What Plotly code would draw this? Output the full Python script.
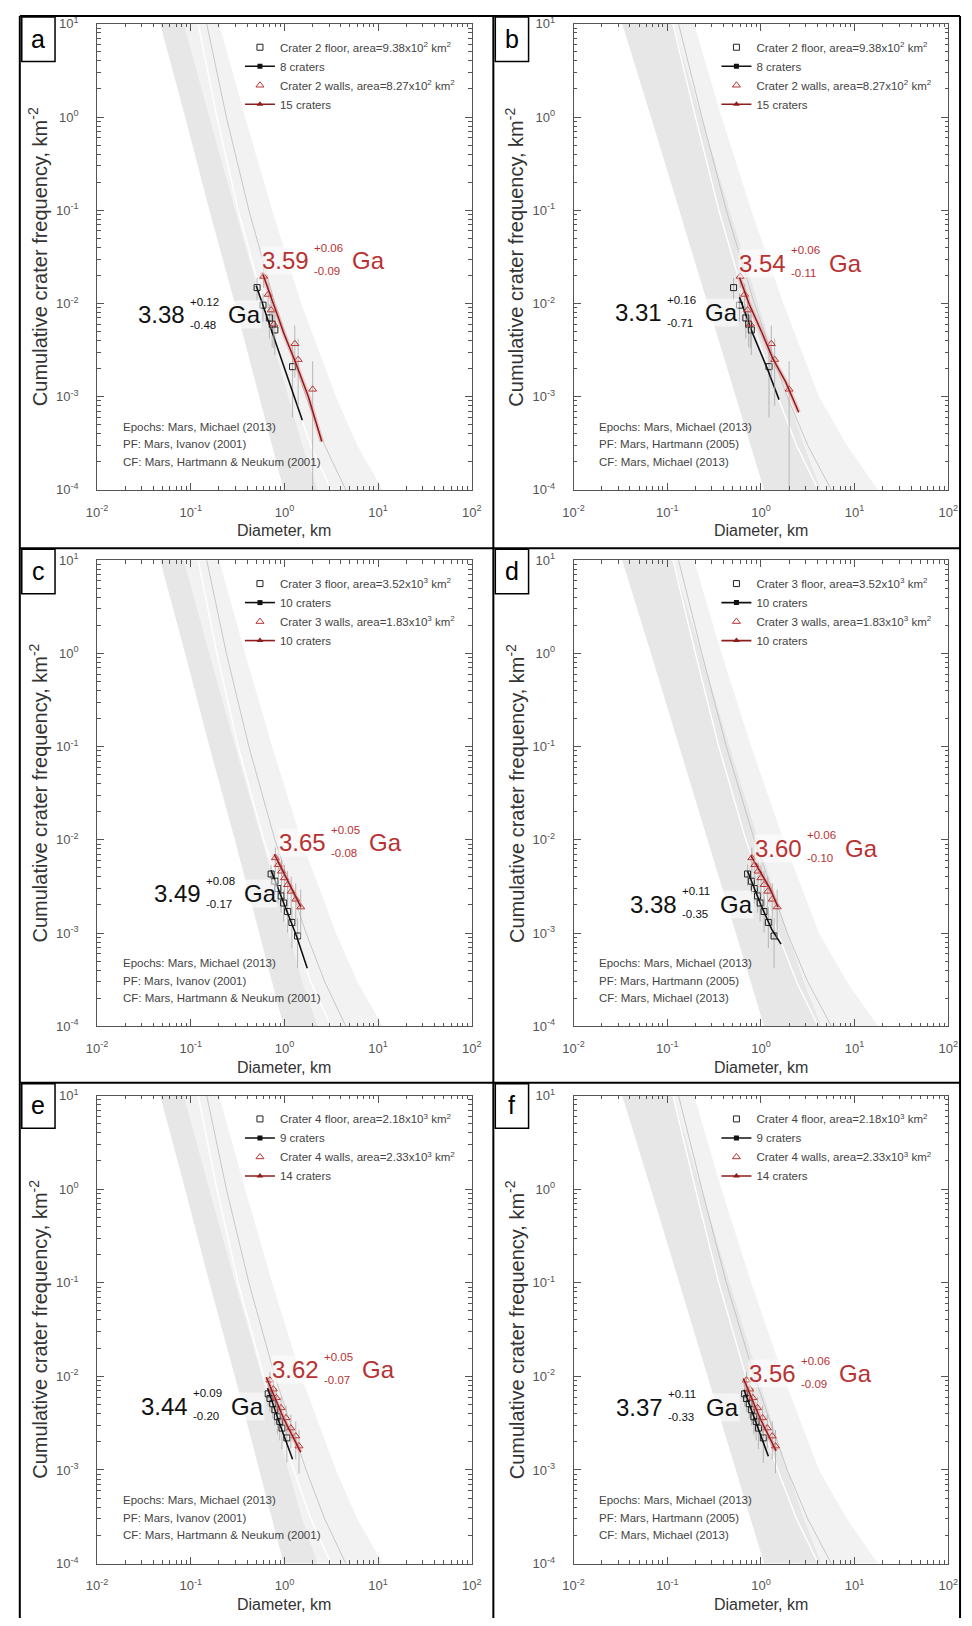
import plotly.graph_objects as go

W, H = 972, 1626
FONT = "Liberation Sans, Arial, Helvetica, sans-serif"
RED = "#b83232"
RED_LINE = "#8e1c1c"

# ---------------- epoch isochron bands: diameters (km) at these cumulative frequencies (km^-2)
band_N = [20, 10, 1, 0.1, 0.01, 0.001, 0.0003, 0.0001, 0.00006]
# Ivanov (2001) production function panels (a, c, e)
iv_left = [0.038, 0.047, 0.087, 0.158, 0.295, 0.54, 0.74, 1.0, 1.12]
iv_mid = [0.069, 0.083, 0.158, 0.30, 0.575, 1.10, 1.55, 2.24, 2.63]
iv_white = [0.10, 0.12, 0.19, 0.32, 0.60, 1.26, 1.91, 3.16, 3.98]
iv_gray = [0.123, 0.148, 0.24, 0.417, 0.79, 1.70, 2.69, 4.57, 5.75]
iv_right = [0.166, 0.20, 0.38, 0.74, 1.51, 3.55, 6.0, 11.2, 14.1]
# Hartmann (2005) production function panels (b, d, f)
hm_left = [0.027, 0.033, 0.067, 0.134, 0.27, 0.54, 0.77, 1.09, 1.26]
hm_mid = [0.093, 0.115, 0.231, 0.464, 0.933, 1.92, 2.88, 4.43, 5.47]
hm_white = [0.093, 0.115, 0.20, 0.355, 0.69, 1.51, 2.40, 4.17, 5.25]
hm_gray = [0.107, 0.132, 0.234, 0.427, 0.85, 1.91, 3.16, 5.75, 7.4]
hm_right = [0.158, 0.19, 0.38, 0.79, 1.74, 4.17, 8.3, 17.8, 23.4]

# ---------------- crater counts (diameter km, cumulative frequency km^-2, 1-sigma)
c2_floor_D = [0.51, 0.59, 0.69, 0.74, 0.79, 1.22]
c2_floor_N = [0.0148, 0.0096, 0.0070, 0.0060, 0.0052, 0.0021]
c2_floor_err = [0.0040, 0.0032, 0.0028, 0.0026, 0.0024, 0.0015]
c2_walls_D = [0.60, 0.67, 0.72, 0.77, 1.29, 1.40, 2.0]
c2_walls_N = [0.0195, 0.0125, 0.0085, 0.0060, 0.0037, 0.0025, 0.0012]
c2_walls_err = [0.0048, 0.0038, 0.0032, 0.0027, 0.0021, 0.0017, 0.0012]
c2_walls_err_lo = [0.0048, 0.0038, 0.0032, 0.0027, 0.0021, 0.0017, 0.00119]

c3_floor_D = [0.72, 0.79, 0.85, 0.92, 0.98, 1.08, 1.20, 1.38]
c3_floor_N = [0.0043, 0.0036, 0.0030, 0.0025, 0.0021, 0.0017, 0.0013, 0.00093]
c3_floor_err = [0.0011, 0.00101, 0.00093, 0.00084, 0.00077, 0.00069, 0.00061, 0.00051]
c3_walls_D = [0.80, 0.86, 0.93, 1.00, 1.08, 1.18, 1.32, 1.49]
c3_walls_N = [0.0064, 0.0054, 0.0046, 0.0039, 0.0033, 0.0028, 0.0023, 0.0019]
c3_walls_err = [0.00187, 0.00172, 0.00158, 0.00146, 0.00134, 0.00124, 0.00112, 0.00102]

c4_floor_D = [0.67, 0.70, 0.75, 0.79, 0.84, 0.89, 0.94, 1.06]
c4_floor_N = [0.0065, 0.0058, 0.0051, 0.0044, 0.0037, 0.0033, 0.0028, 0.0022]
c4_floor_err = [0.00173, 0.00163, 0.00153, 0.00142, 0.0013, 0.00123, 0.00113, 0.001]
c4_walls_D = [0.70, 0.76, 0.82, 0.92, 1.04, 1.17, 1.32, 1.43]
c4_walls_N = [0.0091, 0.0073, 0.0059, 0.0046, 0.0036, 0.0028, 0.0023, 0.0018]
c4_walls_err = [0.00198, 0.00177, 0.00159, 0.0014, 0.00124, 0.0011, 0.001, 0.00088]

# ---------------- isochron fits
fit_a_black_D = [0.50, 0.70, 1.0, 1.25, 1.55]
fit_a_black_N = [0.0155, 0.0058, 0.0021, 0.0011, 0.00056]
fit_a_red_D = [0.58, 0.80, 1.0, 1.3, 1.8, 2.5]
fit_a_red_N = [0.0215, 0.0085, 0.0046, 0.0024, 0.0010, 0.00033]
fit_b_black_D = [0.59, 0.82, 1.17, 1.56]
fit_b_black_N = [0.0117, 0.0047, 0.0020, 0.00093]
fit_b_red_D = [0.59, 0.75, 1.04, 1.33, 1.83, 2.53]
fit_b_red_N = [0.019, 0.0098, 0.0047, 0.0026, 0.00145, 0.00068]
fit_c_black_D = [0.72, 1.0, 1.35, 1.75]
fit_c_black_N = [0.0047, 0.0020, 0.00092, 0.00042]
fit_c_red_D = [0.78, 1.0, 1.25, 1.5]
fit_c_red_N = [0.0070, 0.0043, 0.0028, 0.0019]
fit_d_black_D = [0.72, 1.0, 1.3, 1.64]
fit_d_black_N = [0.0046, 0.0020, 0.0011, 0.00076]
fit_d_red_D = [0.78, 1.0, 1.25, 1.52]
fit_d_red_N = [0.0068, 0.0045, 0.0030, 0.0019]
fit_e_black_D = [0.66, 0.9, 1.22]
fit_e_black_N = [0.0075, 0.0030, 0.0013]
fit_e_red_D = [0.64, 1.0, 1.49]
fit_e_red_N = [0.0098, 0.0034, 0.00155]
fit_f_black_D = [0.66, 0.9, 1.2]
fit_f_black_N = [0.0072, 0.0031, 0.0014]
fit_f_red_D = [0.65, 1.0, 1.45]
fit_f_red_N = [0.0095, 0.0034, 0.0016]

# ---------------- model ages (Ga)
age_black = [("3.38", "+0.12", "-0.48"), ("3.31", "+0.16", "-0.71"), ("3.49", "+0.08", "-0.17"),
             ("3.38", "+0.11", "-0.35"), ("3.44", "+0.09", "-0.20"), ("3.37", "+0.11", "-0.33")]
age_red = [("3.59", "+0.06", "-0.09"), ("3.54", "+0.06", "-0.11"), ("3.65", "+0.05", "-0.08"),
           ("3.60", "+0.06", "-0.10"), ("3.62", "+0.05", "-0.07"), ("3.56", "+0.06", "-0.09")]
# label anchors (log10 D of number's right edge, log10 N of centre)
age_black_pos = [(-1.05, -2.12), (-1.05, -2.10), (-0.88, -2.58), (-0.89, -2.69), (-1.02, -2.32), (-1.03, -2.33)]
age_red_pos = [(0.27, -1.54), (0.28, -1.57), (0.45, -2.03), (0.45, -2.09), (0.38, -1.93), (0.38, -1.97)]

panel_letters = ["a", "b", "c", "d", "e", "f"]
x_tick_vals = [0.01, 0.1, 1, 10, 100]
x_tick_text = ["10<sup>-2</sup>", "10<sup>-1</sup>", "10<sup>0</sup>", "10<sup>1</sup>", "10<sup>2</sup>"]
y_tick_vals = [0.0001, 0.001, 0.01, 0.1, 1, 10]
y_tick_text = ["10<sup>-4</sup>", "10<sup>-3</sup>", "10<sup>-2</sup>", "10<sup>-1</sup>", "10<sup>0</sup>", "10<sup>1</sup>"]
x_minor = [k * 10.0 ** e for e in range(-2, 2) for k in range(2, 10)]
y_minor = [k * 10.0 ** e for e in range(-4, 1) for k in range(2, 10)]

bands = {
    "iv": (iv_left, iv_mid, iv_white, iv_gray, iv_right),
    "hm": (hm_left, hm_mid, hm_white, hm_gray, hm_right),
}
pf_text = {
    "iv": ["Epochs: Mars, Michael (2013)", "PF: Mars, Ivanov (2001)", "CF: Mars, Hartmann & Neukum (2001)"],
    "hm": ["Epochs: Mars, Michael (2013)", "PF: Mars, Hartmann (2005)", "CF: Mars, Michael (2013)"],
}
craters = {
    2: dict(fD=c2_floor_D, fN=c2_floor_N, fE=c2_floor_err, fEl=c2_floor_err,
            wD=c2_walls_D, wN=c2_walls_N, wE=c2_walls_err, wEl=c2_walls_err_lo,
            fname="Crater 2 floor, area=9.38x10<sup>2</sup> km<sup>2</sup>",
            wname="Crater 2 walls, area=8.27x10<sup>2</sup> km<sup>2</sup>",
            nf="8 craters", nw="15 craters"),
    3: dict(fD=c3_floor_D, fN=c3_floor_N, fE=c3_floor_err, fEl=c3_floor_err,
            wD=c3_walls_D, wN=c3_walls_N, wE=c3_walls_err, wEl=c3_walls_err,
            fname="Crater 3 floor, area=3.52x10<sup>3</sup> km<sup>2</sup>",
            wname="Crater 3 walls, area=1.83x10<sup>3</sup> km<sup>2</sup>",
            nf="10 craters", nw="10 craters"),
    4: dict(fD=c4_floor_D, fN=c4_floor_N, fE=c4_floor_err, fEl=c4_floor_err,
            wD=c4_walls_D, wN=c4_walls_N, wE=c4_walls_err, wEl=c4_walls_err,
            fname="Crater 4 floor, area=2.18x10<sup>3</sup> km<sup>2</sup>",
            wname="Crater 4 walls, area=2.33x10<sup>3</sup> km<sup>2</sup>",
            nf="9 craters", nw="14 craters"),
}
fits = [
    (fit_a_black_D, fit_a_black_N, fit_a_red_D, fit_a_red_N),
    (fit_b_black_D, fit_b_black_N, fit_b_red_D, fit_b_red_N),
    (fit_c_black_D, fit_c_black_N, fit_c_red_D, fit_c_red_N),
    (fit_d_black_D, fit_d_black_N, fit_d_red_D, fit_d_red_N),
    (fit_e_black_D, fit_e_black_N, fit_e_red_D, fit_e_red_N),
    (fit_f_black_D, fit_f_black_N, fit_f_red_D, fit_f_red_N),
]

# ---------------- layout geometry (window pixels)
col_px = [(88, 471), (575, 958)]
row_px = [(15, 486), (557, 1028), (1098, 1571)]
row_border = [7, 545, 1085]
col_border = [9, 493, 970]


def px(v):
    return v / W


def py(v):
    return 1 - v / H


fig = go.Figure()
annotations = []
shapes = []
layout = dict(width=W, height=H, margin=dict(l=0, r=0, t=0, b=0),
              paper_bgcolor="white", plot_bgcolor="white", showlegend=True,
              font=dict(family=FONT))

for i in range(6):
    r, c = i // 2, i % 2
    n = "" if i == 0 else str(i + 1)
    xr, yr = "x" + n, "y" + n
    lg = "legend" + n
    pf = "iv" if c == 0 else "hm"
    crater = craters[2 + r]
    bl, bm, bw, bg, br = bands[pf]

    # epoch bands
    fig.add_trace(go.Scatter(x=bm + br[::-1], y=band_N + band_N[::-1], fill="toself", mode="lines",
                             line=dict(width=0), fillcolor="rgba(0,0,0,0.05)", hoverinfo="skip",
                             showlegend=False, xaxis=xr, yaxis=yr))
    fig.add_trace(go.Scatter(x=bl + bm[::-1], y=band_N + band_N[::-1], fill="toself", mode="lines",
                             line=dict(width=0), fillcolor="rgba(0,0,0,0.095)", hoverinfo="skip",
                             showlegend=False, xaxis=xr, yaxis=yr))
    fig.add_trace(go.Scatter(x=bw, y=band_N, mode="lines", line=dict(width=1.4, color="white"),
                             hoverinfo="skip", showlegend=False, xaxis=xr, yaxis=yr))
    fig.add_trace(go.Scatter(x=bg, y=band_N, mode="lines", line=dict(width=0.8, color="#bcbcbc"),
                             hoverinfo="skip", showlegend=False, xaxis=xr, yaxis=yr))

    fbD, fbN, frD, frN = fits[i]
    # floor data
    fig.add_trace(go.Scatter(x=crater["fD"], y=crater["fN"], mode="markers", name=crater["fname"],
                             marker=dict(symbol="square-open", size=6, color="#222", line=dict(width=1)),
                             error_y=dict(type="data", array=crater["fE"], arrayminus=crater["fEl"],
                                          symmetric=False, width=0, thickness=0.8, color="#a8a8a8"),
                             legend=lg, xaxis=xr, yaxis=yr))
    fig.add_trace(go.Scatter(x=fbD, y=fbN, mode="lines", line=dict(color="#111", width=1.6),
                             showlegend=False, xaxis=xr, yaxis=yr))
    fig.add_trace(go.Scatter(x=[None], y=[None], mode="lines+markers", name=crater["nf"],
                             line=dict(color="#111", width=1.6),
                             marker=dict(symbol="square", size=5, color="#111"),
                             legend=lg, xaxis=xr, yaxis=yr))
    # walls data
    fig.add_trace(go.Scatter(x=crater["wD"], y=crater["wN"], mode="markers", name=crater["wname"],
                             marker=dict(symbol="triangle-up-open", size=7, color=RED, line=dict(width=1)),
                             error_y=dict(type="data", array=crater["wE"], arrayminus=crater["wEl"],
                                          symmetric=False, width=0, thickness=0.8, color="#a8a8a8"),
                             legend=lg, xaxis=xr, yaxis=yr))
    fig.add_trace(go.Scatter(x=frD, y=frN, mode="lines", line=dict(color="rgba(230,140,140,0.45)", width=4.5),
                             showlegend=False, hoverinfo="skip", xaxis=xr, yaxis=yr))
    fig.add_trace(go.Scatter(x=frD, y=frN, mode="lines", line=dict(color=RED_LINE, width=1.5),
                             showlegend=False, xaxis=xr, yaxis=yr))
    fig.add_trace(go.Scatter(x=[None], y=[None], mode="lines+markers", name=crater["nw"],
                             line=dict(color=RED_LINE, width=1.6),
                             marker=dict(symbol="triangle-up", size=6, color=RED_LINE),
                             legend=lg, xaxis=xr, yaxis=yr))

    x0, x1 = col_px[c]
    y0, y1 = row_px[r]
    axis_common = dict(type="log", showline=True, linecolor="#555", linewidth=1, mirror="allticks",
                       ticks="inside", ticklen=7, tickcolor="#555", tickwidth=1,
                       tickfont=dict(size=13, color="#555", family=FONT),
                       showgrid=False, zeroline=False, fixedrange=True)
    layout["xaxis" + n] = dict(axis_common, range=[-2, 2], domain=[px(x0), px(x1)], anchor=yr,
                               tickvals=x_tick_vals, ticktext=x_tick_text, ticklabelstandoff=10,
                               minor=dict(ticks="inside", ticklen=3.5, tickcolor="#555",
                                          tickvals=x_minor, showgrid=False))
    layout["yaxis" + n] = dict(axis_common, range=[-4, 1], domain=[py(y1), py(y0)], anchor=xr,
                               tickvals=y_tick_vals, ticktext=y_tick_text, ticklabelstandoff=15,
                               minor=dict(ticks="inside", ticklen=3.5, tickcolor="#555",
                                          tickvals=y_minor, showgrid=False))
    layout[lg] = dict(x=px(x0 + 146), y=py(y0 + 9), xanchor="left", yanchor="top",
                      bgcolor="rgba(0,0,0,0)", borderwidth=0, itemwidth=30, tracegroupgap=0,
                      font=dict(size=11.5, color="#444", family=FONT))

    xd, yd = xr + " domain", yr + " domain"
    annotations.append(dict(x=-0.157, y=0.5, xref=xd, yref=yd, showarrow=False, textangle=-90,
                            xanchor="center", yanchor="middle",
                            text="Cumulative crater frequency, km<sup>-2</sup>",
                            font=dict(size=20, color="#333", family=FONT)))
    annotations.append(dict(x=0.5, y=-0.088, xref=xd, yref=yd, showarrow=False,
                            xanchor="center", yanchor="middle",
                            text="Diameter, km", font=dict(size=16, color="#333", family=FONT)))
    for k, t in enumerate(pf_text[pf]):
        annotations.append(dict(x=0.063, y=0.135 - 0.0375 * k, xref=xd, yref=yd, showarrow=False,
                                xanchor="left", yanchor="middle", text=t,
                                font=dict(size=11.5, color="#444", family=FONT)))

    for (num, up, dn), (lx, ly), col in ((age_black[i], age_black_pos[i], "#111"),
                                         (age_red[i], age_red_pos[i], RED)):
        base = dict(x=lx, y=ly, xref=xr, yref=yr, showarrow=False, yanchor="middle",
                    bgcolor="rgba(255,255,255,0.55)", borderpad=0)
        annotations.append(dict(base, text=num, xanchor="right",
                                font=dict(size=24, color=col, family=FONT)))
        annotations.append(dict(base, text=up, xanchor="left", xshift=3, yshift=13,
                                font=dict(size=11.5, color=col, family=FONT)))
        annotations.append(dict(base, text=dn, xanchor="left", xshift=3, yshift=-10,
                                font=dict(size=11.5, color=col, family=FONT)))
        annotations.append(dict(base, text="Ga", xanchor="left", xshift=41,
                                font=dict(size=24, color=col, family=FONT)))

    # panel letter box
    bx0 = col_border[c] + 2
    by0 = row_border[r] + 1
    shapes.append(dict(type="rect", xref="paper", yref="paper", x0=px(bx0), x1=px(bx0 + 34),
                       y0=py(by0 + 45), y1=py(by0), line=dict(color="black", width=1.5),
                       fillcolor="white", layer="above"))
    annotations.append(dict(x=px(bx0 + 17), y=py(by0 + 22), xref="paper", yref="paper",
                            showarrow=False, text=panel_letters[i], xanchor="center", yanchor="middle",
                            font=dict(size=25, color="black", family=FONT)))

# panel borders
for xb in col_border:
    shapes.append(dict(type="line", xref="paper", yref="paper", x0=px(xb), x1=px(xb),
                       y0=0, y1=py(row_border[0]), line=dict(color="black", width=2)))
for yb in row_border:
    shapes.append(dict(type="line", xref="paper", yref="paper", x0=px(col_border[0]), x1=px(col_border[-1]),
                       y0=py(yb), y1=py(yb), line=dict(color="black", width=2)))

layout["annotations"] = annotations
layout["shapes"] = shapes
fig.update_layout(**layout)

fig.write_html("out.html", config={"displayModeBar": False})

# drop the default page margin so the figure sits at the window origin
with open("out.html", "r", encoding="utf-8") as fh:
    html = fh.read()
html = html.replace("<head>", "<head><style>html,body{margin:0;padding:0;overflow:hidden;}</style>", 1)
with open("out.html", "w", encoding="utf-8") as fh:
    fh.write(html)
